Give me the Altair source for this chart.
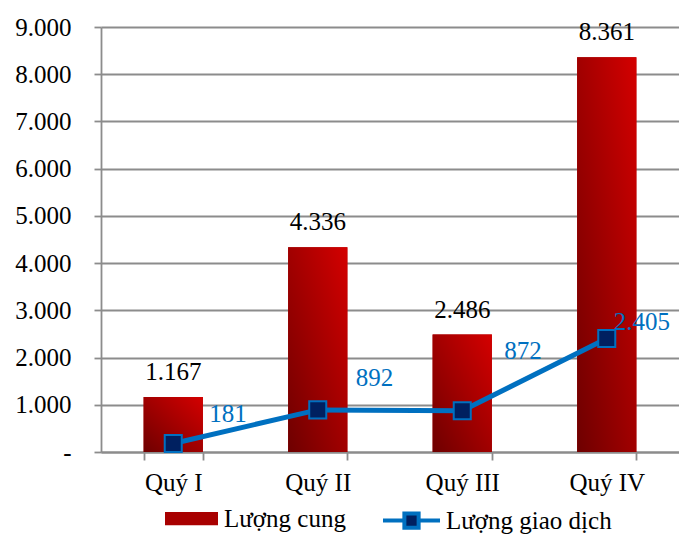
import altair as alt
import pandas as pd

quarters = ["Quý I", "Quý II", "Quý III", "Quý IV"]
supply = [1167, 4336, 2486, 8361]
transactions = [181, 892, 872, 2405]

SERIES_BAR = "Lượng cung"
SERIES_LINE = "Lượng giao dịch"

df = pd.DataFrame({"q": quarters, "supply": supply, "trans": transactions})
df["bar_s"] = SERIES_BAR
df["line_s"] = SERIES_LINE

FONT = "Liberation Serif"
GRID = "#8c8c8c"
BLUE = "#0070C0"
NAVY = "#002060"

base = alt.Chart(df).transform_calculate(
    supply_lbl="replace(format(datum.supply, ','), ',', '.')",
    trans_lbl="replace(format(datum.trans, ','), ',', '.')",
)

x_enc = alt.X(
    "q:N", sort=quarters, title=None,
    scale=alt.Scale(paddingInner=0.59, paddingOuter=0.295),
    axis=alt.Axis(labelAngle=0, tickBand="extent", tickSize=8, tickColor=GRID,
                  tickWidth=1.8, domainColor=GRID, domainWidth=1.8, grid=False,
                  labelFont=FONT, labelFontSize=25, labelColor="black",
                  labelPadding=10),
)
y_axis = alt.Axis(
    values=list(range(0, 10000, 1000)),
    labelExpr="datum.value == 0 ? '-\u00a0\u00a0' : replace(format(datum.value, ','), ',', '.')",
    grid=True, gridColor=GRID, gridWidth=1.8, tickColor=GRID, tickWidth=1.8,
    tickSize=7, domainColor=GRID, domainWidth=1.8, labelFont=FONT,
    labelFontSize=25, labelColor="black", labelPadding=23, labelBaseline="middle",
)
y_scale = alt.Scale(domain=[0, 9000], nice=False)

bar_solid = base.mark_bar().encode(
    x=x_enc,
    y=alt.Y("supply:Q", scale=y_scale, axis=y_axis, title=None),
    fill=alt.Fill("bar_s:N", scale=alt.Scale(domain=[SERIES_BAR], range=["#a80000"]),
                  legend=alt.Legend(title=None, orient="none", legendX=64, legendY=465,
                                    symbolType="M-1,-0.25H1V0.25H-1Z", symbolSize=2809,
                                    symbolStrokeWidth=0, labelFont=FONT, labelFontSize=25,
                                    labelColor="black", labelOffset=6, labelLimit=400)),
)

grad = alt.LinearGradient(
    gradient="linear",
    stops=[alt.GradientStop(color="#6e0000", offset=0),
           alt.GradientStop(color="#d40000", offset=1)],
    x1=0, y1=1, x2=1, y2=0,
)
bar_grad = base.mark_bar(fill=grad).encode(
    x=x_enc, y=alt.Y("supply:Q", title=None),
)

bar_text = base.mark_text(font=FONT, fontSize=25, color="black", dy=-17,
                          baseline="alphabetic").encode(
    x=x_enc, y=alt.Y("supply:Q", title=None), text="supply_lbl:N",
)

line = base.mark_line(strokeWidth=5).encode(
    x=x_enc, y=alt.Y("trans:Q", title=None),
    stroke=alt.Stroke("line_s:N", scale=alt.Scale(domain=[SERIES_LINE], range=[BLUE]),
                      legend=alt.Legend(title=None, orient="none", legendX=280, legendY=463,
                                        symbolType="M-1,0H-0.25M0.25,0H1M-0.25,-0.25H0.25V0.25H-0.25Z",
                                        symbolSize=3249, symbolFillColor=NAVY,
                                        symbolStrokeWidth=4, labelFont=FONT, labelFontSize=25,
                                        labelColor="black", labelOffset=4, labelLimit=400)),
)
points = base.mark_point(shape="square", filled=True, size=290, fill=NAVY,
                         stroke=BLUE, strokeWidth=2, opacity=1).encode(
    x=x_enc, y=alt.Y("trans:Q", title=None),
)

label_offsets = {"Quý I": (36, -21), "Quý II": (38, -24), "Quý III": (42, -52), "Quý IV": (7, -8)}
line_texts = []
for q in quarters:
    dx, dy = label_offsets[q]
    line_texts.append(
        base.transform_filter(alt.datum.q == q).mark_text(
            font=FONT, fontSize=25, color=BLUE, align="left", baseline="alphabetic",
            dx=dx, dy=dy,
        ).encode(x=x_enc, y=alt.Y("trans:Q", title=None), text="trans_lbl:N")
    )

chart = alt.layer(bar_solid, bar_grad, bar_text, line, points, *line_texts).properties(
    width=578, height=425,
    autosize=alt.AutoSizeParams(type="none"),
    padding={"left": 93, "top": 19, "right": 0, "bottom": 84},
).configure_view(stroke=None)

chart.save("out.html", embed_options={"renderer": "svg", "actions": False})
